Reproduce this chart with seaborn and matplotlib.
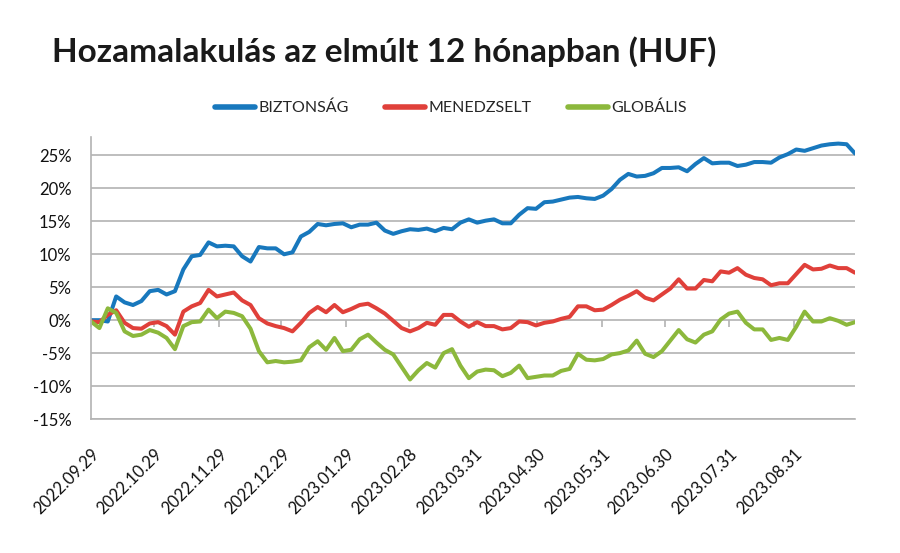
import matplotlib
matplotlib.use("Agg")
import matplotlib.pyplot as plt
from matplotlib.ticker import FixedLocator, FuncFormatter
import seaborn as sns
import pandas as pd

# ---- data ----
start_date = "2022-09-29"
end_date = "2023-09-29"
n_points = 92

biztonsag = [0.0, 0.0, -0.2, 3.6, 2.7, 2.3, 2.9, 4.4, 4.6, 3.9,
             4.4, 7.7, 9.7, 9.9, 11.8, 11.2, 11.3, 11.2, 9.7, 8.9,
             11.1, 10.9, 10.9, 10.0, 10.3, 12.7, 13.4, 14.6, 14.4, 14.6,
             14.7, 14.1, 14.5, 14.5, 14.8, 13.6, 13.1, 13.5, 13.8, 13.7,
             13.9, 13.5, 14.0, 13.8, 14.8, 15.3, 14.8, 15.1, 15.3, 14.7,
             14.7, 16.0, 17.0, 16.9, 17.9, 18.0, 18.3, 18.6, 18.7, 18.5,
             18.4, 18.9, 19.9, 21.3, 22.2, 21.8, 21.9, 22.3, 23.1, 23.1,
             23.2, 22.6, 23.7, 24.6, 23.8, 23.9, 23.9, 23.4, 23.6, 24.0,
             24.0, 23.9, 24.7, 25.2, 25.9, 25.7, 26.1, 26.5, 26.7, 26.8,
             26.7, 25.3]

menedzselt = [-0.2, -0.3, 0.8, 1.5, -0.4, -1.2, -1.3, -0.5, -0.3, -0.9,
              -2.2, 1.3, 2.1, 2.6, 4.6, 3.6, 3.9, 4.2, 3.0, 2.3,
              0.3, -0.5, -0.9, -1.2, -1.7, -0.4, 1.1, 2.0, 1.2, 2.3,
              1.2, 1.7, 2.3, 2.5, 1.8, 1.0, -0.1, -1.2, -1.7, -1.2,
              -0.4, -0.7, 0.8, 0.8, -0.2, -1.0, -0.3, -0.9, -0.9, -1.4,
              -1.2, -0.2, -0.3, -0.8, -0.4, -0.2, 0.2, 0.5, 2.1, 2.1,
              1.5, 1.6, 2.3, 3.1, 3.7, 4.4, 3.4, 3.0, 3.9, 4.8,
              6.2, 4.8, 4.8, 6.1, 5.9, 7.4, 7.2, 7.9, 6.9, 6.4,
              6.2, 5.3, 5.6, 5.6, 7.0, 8.4, 7.7, 7.8, 8.3, 7.9,
              7.9, 7.2]

globalis = [-0.2, -1.2, 1.8, 1.1, -1.7, -2.4, -2.2, -1.5, -1.9, -2.7,
            -4.4, -0.9, -0.3, -0.2, 1.6, 0.3, 1.3, 1.1, 0.6, -1.3,
            -4.7, -6.4, -6.2, -6.4, -6.3, -6.1, -4.1, -3.2, -4.5, -2.7,
            -4.7, -4.5, -2.9, -2.2, -3.4, -4.5, -5.2, -7.1, -9.0, -7.6,
            -6.5, -7.2, -5.0, -4.4, -6.9, -8.8, -7.8, -7.5, -7.6, -8.5,
            -8.0, -6.9, -8.8, -8.6, -8.4, -8.4, -7.7, -7.4, -5.1, -6.0,
            -6.1, -5.9, -5.2, -5.0, -4.6, -3.1, -5.1, -5.6, -4.7, -3.1,
            -1.5, -2.9, -3.4, -2.2, -1.7, 0.1, 1.0, 1.3, -0.4, -1.4,
            -1.4, -3.0, -2.7, -3.0, -1.0, 1.3, -0.2, -0.2, 0.3, -0.1,
            -0.7, -0.3]

series_names = ["BIZTONSÁG", "MENEDZSELT", "GLOBÁLIS"]
series_colors = ["#1878bd", "#e0403a", "#8cb83c"]

tick_labels = ["2022.09.29", "2022.10.29", "2022.11.29", "2022.12.29",
               "2023.01.29", "2023.02.28", "2023.03.31", "2023.04.30",
               "2023.05.31", "2023.06.30", "2023.07.31", "2023.08.31"]

y_ticks = [-15, -10, -5, 0, 5, 10, 15, 20, 25]
title = "Hozamalakulás az elmúlt 12 hónapban (HUF)"

# ---- build table ----
dates = pd.date_range(start_date, end_date, periods=n_points)
df = pd.concat([
    pd.DataFrame({"date": dates, "value": vals, "series": name})
    for name, vals in zip(series_names, [biztonsag, menedzselt, globalis])
], ignore_index=True)

sns.set_theme(style="white")
plt.rcParams["font.family"] = ["Lato", "DejaVu Sans"]

fig = plt.figure(figsize=(9, 5.53), dpi=100)
ax = fig.add_axes([91 / 900, 1 - 419 / 553, (855 - 91) / 900, (419 - 137) / 553])

sns.lineplot(data=df, x="date", y="value", hue="series",
             palette=dict(zip(series_names, series_colors)),
             hue_order=series_names, linewidth=2.9, ax=ax, legend=True)

grid_color = "#b3b3b3"
ax.set_ylim(-15, 27.8)
ax.set_xlim(pd.Timestamp(start_date), pd.Timestamp(end_date))
ax.yaxis.set_major_locator(FixedLocator(y_ticks))
ax.yaxis.set_major_formatter(FuncFormatter(lambda v, p: f"{v:.0f}%"))
ax.grid(axis="y", color=grid_color, linewidth=1.2)
ax.set_axisbelow(True)

tick_dates = [pd.Timestamp(t.replace(".", "-")) for t in tick_labels]
ax.set_xticks(tick_dates)
ax.set_xticklabels(tick_labels, rotation=45, ha="right", rotation_mode="anchor")
ax.tick_params(axis="x", length=0, pad=19, labelsize=12, labelcolor="#111111")
ax.tick_params(axis="y", length=0, pad=14, labelsize=12, labelcolor="#111111")

for side in ["top", "right"]:
    ax.spines[side].set_visible(False)
ax.spines["left"].set_color(grid_color)
ax.spines["left"].set_linewidth(1.2)
ax.spines["bottom"].set_color(grid_color)
ax.spines["bottom"].set_linewidth(1.2)
ax.set_xlabel("")
ax.set_ylabel("")

# small tick marks on the 0% line
zero_frac = (0 - (-15)) / (27.8 + 15)
sec = ax.secondary_xaxis(zero_frac)
sec.set_xticks(tick_dates)
sec.set_xticklabels([""] * len(tick_dates))
sec.spines["bottom"].set_visible(False)
sec.tick_params(axis="x", direction="out", length=5, width=1.2, color=grid_color)

# legend
handles, labels = ax.get_legend_handles_labels()
ax.legend(handles, labels, loc="center", bbox_to_anchor=(0.501, 1 - 108 / 553),
          bbox_transform=fig.transFigure, ncol=3, frameon=False,
          fontsize=11.5, handlelength=2.5, handletextpad=0.2, columnspacing=2.3)
for line in ax.get_legend().get_lines():
    line.set_linewidth(4)
    line.set_solid_capstyle("round")

fig.text(52 / 900, 1 - 52 / 553, title, ha="left", va="center",
         fontsize=24, fontweight="bold", color="#1a1a1a")

fig.savefig("out.png", dpi=100)
